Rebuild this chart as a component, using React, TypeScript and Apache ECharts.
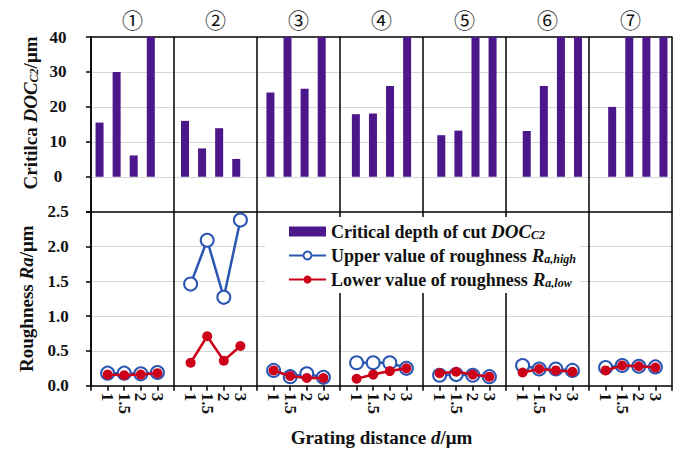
import React, { useEffect, useRef } from "react";
import * as echarts from "echarts";

const panels = ["①", "②", "③", "④", "⑤", "⑥", "⑦"];
const distances = ["1", "1.5", "2", "3"];
// Critical depth of cut DOC_C2 (µm), one row per panel, values for d = 1, 1.5, 2, 3
const docC2 = [
  [15.5, 30, 6.1, 40],
  [16, 8.1, 13.9, 5.1],
  [24.1, 40, 25.2, 40],
  [17.9, 18.1, 26, 40],
  [11.9, 13.2, 40, 40],
  [13.1, 26, 40, 40],
  [20, 40, 40, 40],
];
// Upper value of roughness Ra,high (µm)
const raHigh = [
  [0.18, 0.18, 0.17, 0.19],
  [1.46, 2.09, 1.27, 2.38],
  [0.22, 0.13, 0.17, 0.12],
  [0.33, 0.33, 0.33, 0.25],
  [0.15, 0.16, 0.15, 0.13],
  [0.29, 0.24, 0.24, 0.22],
  [0.26, 0.29, 0.28, 0.27],
];
// Lower value of roughness Ra,low (µm)
const raLow = [
  [0.16, 0.15, 0.16, 0.18],
  [0.33, 0.71, 0.36, 0.57],
  [0.22, 0.14, 0.11, 0.11],
  [0.1, 0.16, 0.21, 0.25],
  [0.18, 0.2, 0.16, 0.13],
  [0.19, 0.24, 0.22, 0.2],
  [0.22, 0.29, 0.28, 0.26],
];
const docTicks = [-10, 0, 10, 20, 30, 40];
const raTicks = [0, 0.5, 1.0, 1.5, 2.0, 2.5];

const SERIF = "'Liberation Serif', 'Times New Roman', serif";
const PURPLE = "#4B178A";
const BLUE = "#2A56B2";
const RED = "#CC0018";
const GRID_GRAY = "#d6d6d6";

export default function App() {
  const ref = useRef<HTMLDivElement>(null);

  useEffect(() => {
    document.body.style.margin = "0";
    if (!ref.current) return;
    const chart = echarts.init(ref.current, undefined, { renderer: "svg" });

    // top chart: 4 bars per panel, one empty slot between panels
    const barCats: string[] = [];
    const barData: (number | string)[] = [];
    docC2.forEach((row, g) => {
      row.forEach((v, j) => {
        barCats.push(`${g}-${distances[j]}`);
        barData.push(v);
      });
      if (g < docC2.length - 1) {
        barCats.push(`gap${g}`);
        barData.push("-");
      }
    });

    // bottom chart: 5 slots per panel, points on ticks 1..4
    const lineCats: string[] = [];
    panels.forEach((_, g) => {
      lineCats.push(`e${g}`);
      distances.forEach((d) => lineCats.push(`${g}|${d}`));
    });
    lineCats.push("end");

    const buildLine = (rows: number[][], g: number) => {
      const arr: (number | string)[] = lineCats.map(() => "-");
      rows[g].forEach((v, j) => {
        arr[g * 5 + 1 + j] = v;
      });
      return arr;
    };

    const highSeries = panels.map((_, g) => ({
      name: "high",
      type: "line",
      xAxisIndex: 2,
      yAxisIndex: 1,
      data: buildLine(raHigh, g),
      symbol: "emptyCircle",
      symbolSize: 13,
      lineStyle: { color: BLUE, width: 2.5 },
      itemStyle: { color: BLUE, borderWidth: 2 },
      z: 3,
    }));
    const lowSeries = panels.map((_, g) => ({
      name: "low",
      type: "line",
      xAxisIndex: 2,
      yAxisIndex: 1,
      data: buildLine(raLow, g),
      symbol: "circle",
      symbolSize: 10,
      lineStyle: { color: RED, width: 2.5 },
      itemStyle: { color: RED },
      z: 4,
    }));

    const tickFont = { fontFamily: SERIF, fontWeight: "bold" as const, fontSize: 17, color: "#111" };
    const richNames = {
      i: { fontFamily: SERIF, fontWeight: "bold", fontStyle: "italic", fontSize: 19, color: "#111" },
      sub: { fontFamily: SERIF, fontWeight: "bold", fontStyle: "italic", fontSize: 12, color: "#111", verticalAlign: "bottom", padding: [6, 0, 0, 0] },
    };
    const legendLabels: Record<string, string> = {
      doc: "Critical depth of cut {i|DOC}{sub|C2}",
      high: "Upper value of roughness {i|R}{sub|a,high}",
      low: "Lower value of roughness {i|R}{sub|a,low}",
    };

    chart.setOption({
      animation: false,
      backgroundColor: "#fff",
      grid: [
        { left: 91, right: 6, top: 37, height: 174.7 },
        { left: 91, right: 6, top: 211.7, height: 174 },
      ],
      legend: {
        orient: "vertical",
        left: 265,
        top: 217,
        padding: [5, 4, 4, 23],
        backgroundColor: "#fff",
        itemWidth: 37,
        itemHeight: 10,
        itemGap: 5,
        data: [{ name: "doc", icon: "rect" }, { name: "high" }, { name: "low" }],
        formatter: (name: string) => legendLabels[name],
        textStyle: {
          fontFamily: SERIF,
          fontWeight: "bold",
          fontSize: 18,
          color: "#111",
          rich: {
            i: { fontFamily: SERIF, fontWeight: "bold", fontStyle: "italic", fontSize: 19, color: "#111" },
            sub: { fontFamily: SERIF, fontWeight: "bold", fontStyle: "italic", fontSize: 12, color: "#111", verticalAlign: "bottom", padding: [6, 0, 0, 0] },
          },
        },
      },
      xAxis: [
        {
          type: "category",
          gridIndex: 0,
          data: barCats,
          boundaryGap: true,
          axisLine: { show: false },
          axisTick: { show: false },
          axisLabel: { show: false },
          splitLine: { show: false },
        },
        {
          type: "category",
          gridIndex: 0,
          position: "top",
          data: panels,
          boundaryGap: true,
          axisLine: { show: true, lineStyle: { color: "#000", width: 1.5 } },
          axisTick: { show: false },
          axisLabel: { show: true, margin: 8, fontFamily: "'Noto Sans CJK SC', 'DejaVu Sans', sans-serif", fontSize: 21, color: "#111" },
          splitLine: { show: true, lineStyle: { color: "#000", width: 1.5 } },
        },
        {
          type: "category",
          gridIndex: 1,
          position: "bottom",
          data: lineCats,
          boundaryGap: false,
          axisLine: { show: true, lineStyle: { color: "#000", width: 1.5 } },
          axisTick: { show: true, interval: 0, length: 5, lineStyle: { color: "#000", width: 1.5 } },
          axisLabel: {
            show: true,
            interval: 0,
            rotate: -90,
            margin: 7,
            ...tickFont,
            fontSize: 17,
            formatter: (v: string) => (v.includes("|") ? v.split("|")[1] : ""),
          },
          splitLine: { show: false },
          name: "Grating distance {i|d}/μm",
          nameLocation: "middle",
          nameGap: 42,
          nameTextStyle: { fontFamily: SERIF, fontWeight: "bold", fontSize: 19, color: "#111", rich: richNames },
        },
        {
          type: "category",
          gridIndex: 1,
          position: "top",
          data: panels,
          boundaryGap: true,
          axisLine: { show: true, lineStyle: { color: "#000", width: 1.5 } },
          axisTick: { show: false },
          axisLabel: { show: false },
          splitLine: { show: true, lineStyle: { color: "#000", width: 1.5 } },
        },
      ],
      yAxis: [
        {
          type: "value",
          gridIndex: 0,
          min: docTicks[0],
          max: docTicks[docTicks.length - 1],
          interval: 10,
          axisLine: { show: true, lineStyle: { color: "#000", width: 1.5 } },
          axisTick: { show: true, length: 5, lineStyle: { color: "#000", width: 1.5 } },
          axisLabel: {
            ...tickFont,
            align: "center",
            margin: 33,
            formatter: (v: number) => (v < 0 ? "" : String(v)),
          },
          splitLine: { show: true, showMinLine: false, showMaxLine: false, lineStyle: { color: GRID_GRAY, width: 1 } },
        },
        {
          type: "value",
          gridIndex: 1,
          min: raTicks[0],
          max: raTicks[raTicks.length - 1],
          interval: 0.5,
          axisLine: { show: true, lineStyle: { color: "#000", width: 1.5 } },
          axisTick: { show: true, length: 5, lineStyle: { color: "#000", width: 1.5 } },
          axisLabel: {
            ...tickFont,
            align: "center",
            margin: 33,
            formatter: (v: number) => v.toFixed(1),
          },
          splitLine: { show: true, showMinLine: false, showMaxLine: false, lineStyle: { color: GRID_GRAY, width: 1 } },
          name: "Roughness {i|Ra}/μm",
          nameLocation: "middle",
          nameRotate: 90,
          nameGap: 51,
          nameTextStyle: { fontFamily: SERIF, fontWeight: "bold", fontSize: 19, color: "#111", rich: richNames },
        },
      ],
      graphic: [
        {
          type: "text",
          x: 30,
          y: 113,
          rotation: Math.PI / 2,
          style: {
            text: "Critilca {i|DOC}{sub|C2}/μm",
            fontFamily: SERIF,
            fontWeight: "bold",
            fontSize: 19,
            fill: "#111",
            align: "center",
            verticalAlign: "middle",
            rich: {
              i: { fontFamily: SERIF, fontWeight: "bold", fontStyle: "italic", fontSize: 19, fill: "#111" },
              sub: { fontFamily: SERIF, fontWeight: "bold", fontStyle: "italic", fontSize: 12, fill: "#111", verticalAlign: "bottom", padding: [6, 0, 0, 0] },
            },
          },
        },
      ],
      series: [
        {
          name: "doc",
          type: "bar",
          xAxisIndex: 0,
          yAxisIndex: 0,
          data: barData,
          barWidth: 8,
          itemStyle: { color: PURPLE },
        },
        ...highSeries,
        ...lowSeries,
      ],
    });

    return () => chart.dispose();
  }, []);

  return <div ref={ref} style={{ width: 678, height: 449 }} />;
}
